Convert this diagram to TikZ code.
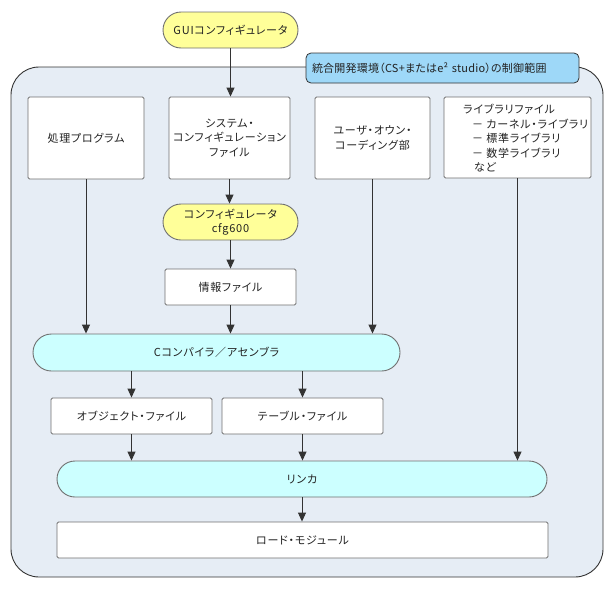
\documentclass[tikz,border=0pt]{standalone}
\usepackage{fontspec}
\setmainfont{Noto Sans CJK JP}[RawFeature=+palt, LetterSpace=7]
\newfontfamily\labelfont{Noto Sans CJK JP}[RawFeature=+palt, LetterSpace=2]
\usetikzlibrary{arrows.meta,shapes.misc}
\definecolor{outerfill}{HTML}{E6EDF5}
\definecolor{outerline}{HTML}{333333}
\definecolor{boxline}{HTML}{707070}
\definecolor{yellowfill}{HTML}{FFFF99}
\definecolor{cyanfill}{HTML}{CCFFFF}
\definecolor{labelfill}{HTML}{9ED8F8}
\definecolor{arrowcol}{HTML}{333333}
\definecolor{txt}{HTML}{222222}
\tikzset{
  filebox/.style={draw=boxline, fill=white, line width=0.9pt, rounded corners=1.5pt, inner sep=0pt, align=center, text=txt},
  yellowpill/.style={rounded rectangle, draw=boxline, fill=yellowfill, line width=0.9pt, inner sep=0pt, align=center, text=txt},
  cyanpill/.style={rounded rectangle, draw=boxline, fill=cyanfill, line width=0.9pt, inner sep=0pt, align=center, text=txt},
  envlabel/.style={draw=outerline, fill=labelfill, line width=0.8pt, rounded corners=5pt, inner xsep=6pt, inner ysep=0pt, text width=261pt, align=left, text=txt, font=\labelfont\fontsize{11}{14.5}\selectfont},
  arr/.style={draw=arrowcol, line width=0.9pt, -{Triangle[length=9pt,width=8pt]}},
}
\begin{document}
\begin{tikzpicture}[x=1pt,y=-1pt, font=\fontsize{11}{14.5}\selectfont]
\useasboundingbox (0,0) rectangle (610,600);
% outer environment area
\draw[draw=outerline, fill=outerfill, line width=0.9pt, rounded corners=28pt] (11,67) rectangle (603,577);
\node[envlabel, minimum height=30pt] (env) at (442.5,68) {統合開発環境（CS+またはe² studio）の制御範囲};

\node[yellowpill, minimum width=135pt, minimum height=36pt] (gui) at (230.5,30) {GUIコンフィギュレータ};

\node[filebox, minimum width=116pt, minimum height=82pt] (proc) at (86,138) {処理プログラム};
\node[filebox, minimum width=121pt, minimum height=82pt] (sys) at (229.5,138) {システム・\\コンフィギュレーション\\ファイル};
\node[filebox, minimum width=115pt, minimum height=82pt] (user) at (372.5,138) {ユーザ・オウン・\\コーディング部};
\node[filebox, minimum width=147pt, minimum height=81pt] (lib) at (517.5,137.5) {};
\node[anchor=west, align=left, inner sep=0pt, text=txt] (libtext) at (463,138.5) {ライブラリファイル\\
\hspace*{9pt}－ カーネル・ライブラリ\\
\hspace*{9pt}－ 標準ライブラリ\\
\hspace*{9pt}－ 数学ライブラリ\\
\hspace*{11pt}など};

\node[yellowpill, minimum width=135pt, minimum height=36pt] (cfg) at (230.5,222) {コンフィギュレータ\\cfg600};
\node[filebox, minimum width=131pt, minimum height=36pt] (info) at (230.5,287) {情報ファイル};

\node[cyanpill, minimum width=367pt, minimum height=37pt] (comp) at (216.5,352.5) {Cコンパイラ／アセンブラ};

\node[filebox, minimum width=161pt, minimum height=36pt] (obj) at (131.5,416) {オブジェクト・ファイル};
\node[filebox, minimum width=161pt, minimum height=36pt] (tbl) at (302.5,416) {テーブル・ファイル};

\node[cyanpill, minimum width=490pt, minimum height=36pt] (link) at (302,479) {リンカ};
\node[filebox, minimum width=491pt, minimum height=36pt] (load) at (302.5,540) {ロード・モジュール};

% connectors
\draw[arr] (gui.south) -- (gui.south |- sys.north);
\draw[arr] (sys.south) -- (sys.south |- cfg.north);
\draw[arr] (cfg.south) -- (cfg.south |- info.north);
\draw[arr] (info.south) -- (info.south |- comp.north);
\draw[arr] (proc.south) -- (proc.south |- comp.north);
\draw[arr] (user.south) -- (user.south |- comp.north);
\draw[arr] (lib.south) -- (lib.south |- link.north);
\draw[arr] (obj.north |- comp.south) -- (obj.north);
\draw[arr] (tbl.north |- comp.south) -- (tbl.north);
\draw[arr] (obj.south) -- (obj.south |- link.north);
\draw[arr] (tbl.south) -- (tbl.south |- link.north);
\draw[arr] (link.south) -- (link.south |- load.north);
\end{tikzpicture}
\end{document}
